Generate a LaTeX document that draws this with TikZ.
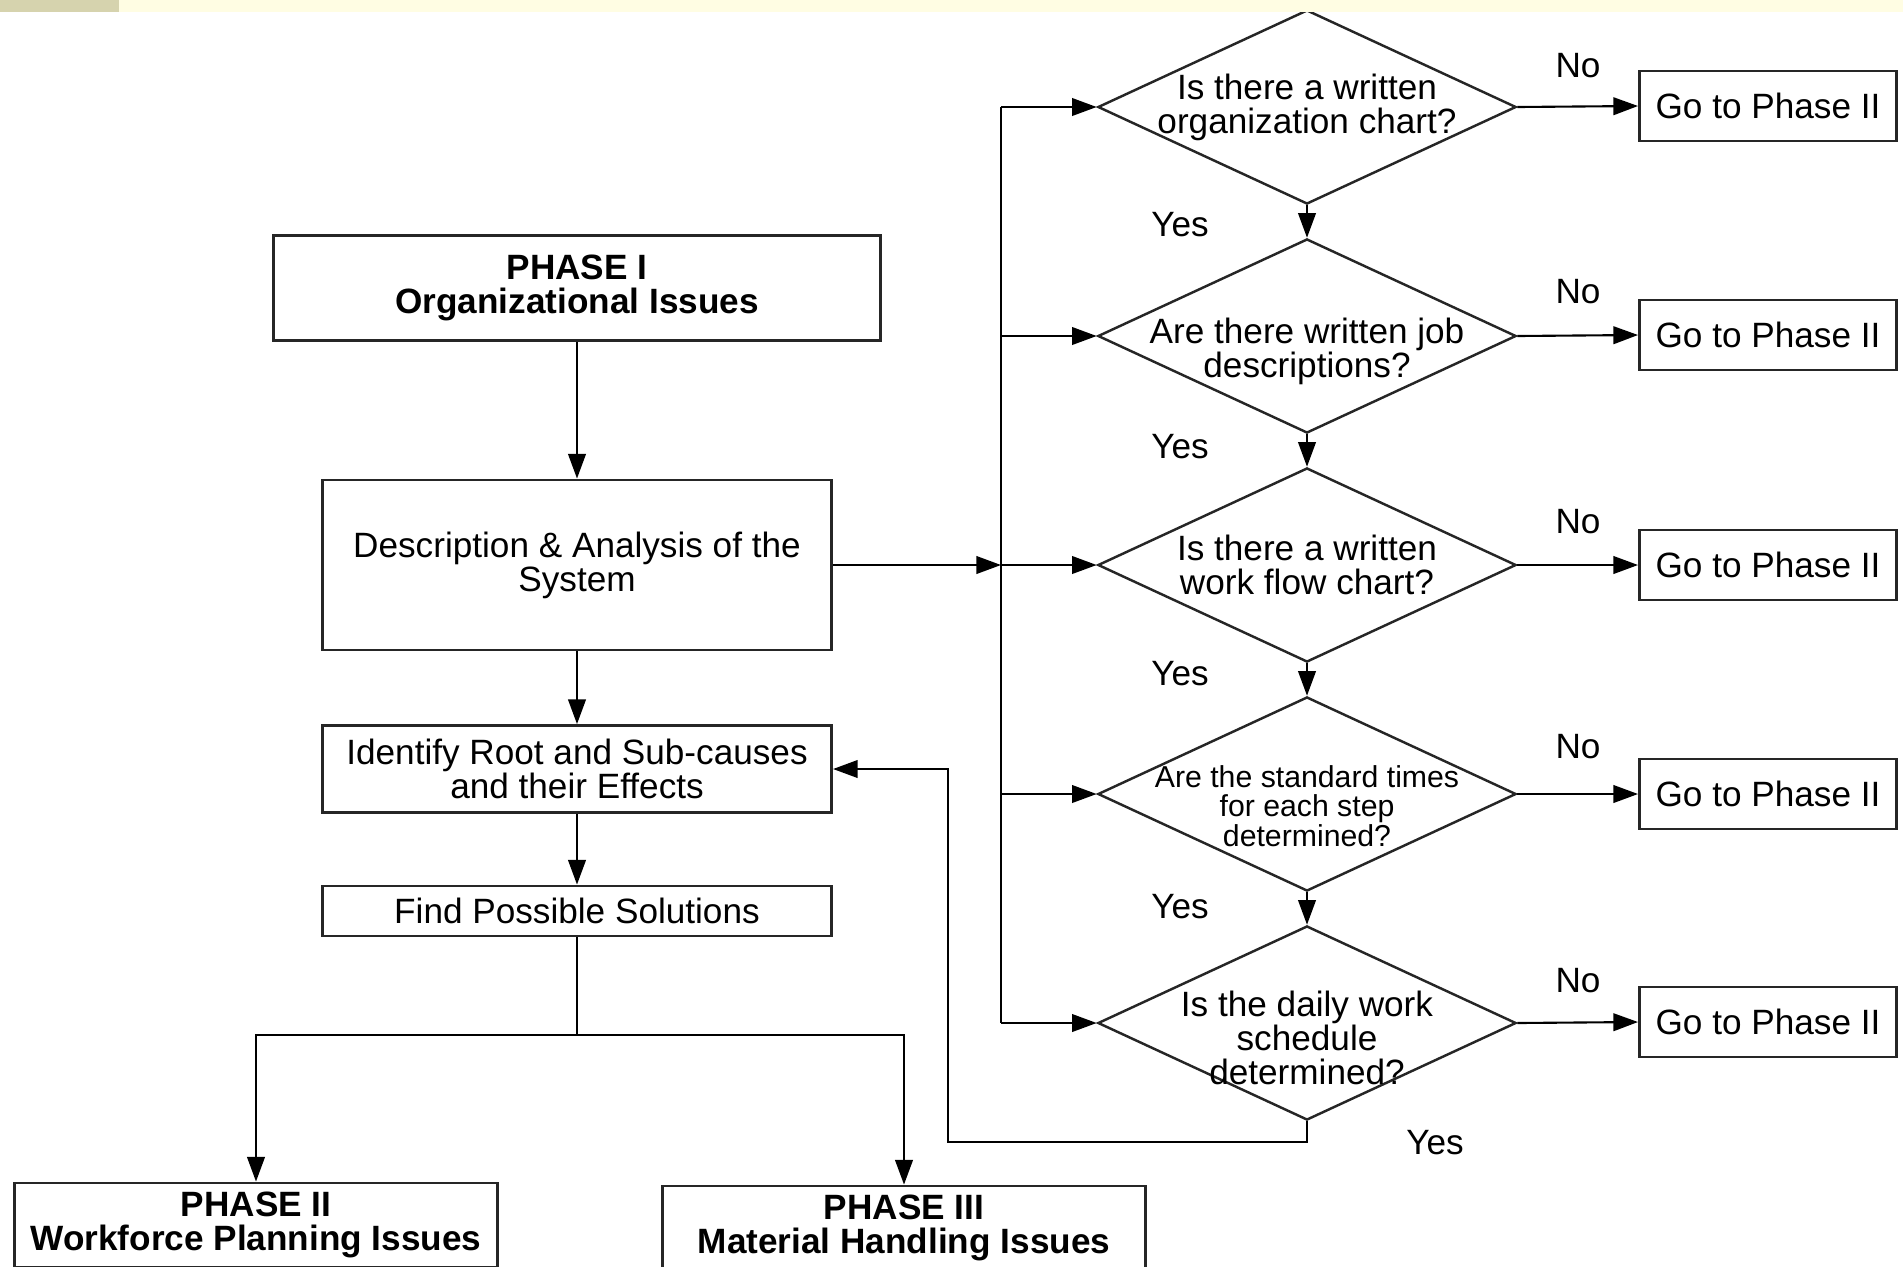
\documentclass[tikz,border=0pt]{standalone}
\usepackage{fontspec}
\setmainfont{Liberation Sans}
\usepackage{tikz}
\usetikzlibrary{shapes.geometric, arrows.meta, positioning}

\newcommand{\boxfont}{\fontsize{10}{9.7}\selectfont}
\newcommand{\smallboxfont}{\fontsize{8.6}{8.3}\selectfont}
\definecolor{bandyellow}{HTML}{FFFDE3}
\definecolor{bandolive}{HTML}{D6D3AE}

\tikzset{
	box/.style={draw=black!85, line width=0.8pt, rectangle, align=center, inner sep=0pt, font=\boxfont},
	decision/.style={draw=black!85, line width=0.7pt, diamond, minimum width=4.18cm, minimum height=1.94cm, inner sep=0pt},
	dtext/.style={align=center, font=\boxfont, inner sep=0pt},
	arr/.style={-{Triangle[length=7pt,width=5pt]}, line width=0.6pt},
	lbl/.style={font=\boxfont}
}

\begin{document}
\begin{tikzpicture}[x=0.01cm, y=-0.01cm]
			\useasboundingbox (0,0) rectangle (1903,1266);
			\def\bx{1001};
			\def\dx{1307};
			
			% left column
			\node[box, minimum width=6.06cm, minimum height=1.05cm] (phase1) at (577,288) {\textbf{PHASE I}\\\textbf{Organizational Issues}};
			\node[box, minimum width=5.09cm, minimum height=1.70cm] (desc) at (577,565) {Description \& Analysis of the\\System};
			\node[box, minimum width=5.09cm, minimum height=0.87cm] (ident) at (577,769) {Identify Root and Sub-causes\\and their Effects};
			\node[box, minimum width=5.09cm, minimum height=0.50cm] (find) at (577,911) {Find Possible Solutions};
			\node[box, minimum width=4.83cm, minimum height=0.84cm] (phase2) at (256,1225) {\textbf{PHASE II}\\\textbf{Workforce Planning Issues}};
			\node[box, minimum width=4.82cm, minimum height=0.84cm] (phase3) at (904,1228) {\textbf{PHASE III}\\\textbf{Material Handling Issues}};
			\coordinate (split) at (577,1035);
			
			\draw[arr] (phase1) -- (desc);
			\draw[arr] (desc) -- (ident);
			\draw[arr] (ident) -- (find);
			\draw[line width=0.6pt] (find.south) -- (split);
			\draw[arr] (split) -| (phase2.north);
			\draw[arr] (split) -| (phase3.north);
			
			% questions
			\node[decision, label={[dtext]center:{Is there a written\\organization chart?}}] (q1) at (\dx,107) {};
			\node[decision, label={[dtext, yshift=-0.15cm]center:{Are there written job\\descriptions?}}] (q2) at (\dx,336) {};
			\node[decision, label={[dtext]center:{Is there a written\\work flow chart?}}] (q3) at (\dx,565) {};
			\node[decision, label={[dtext, font=\smallboxfont, yshift=-0.12cm]center:{Are the standard times\\for each step\\determined?}}] (q4) at (\dx,794) {};
			\node[decision, label={[dtext, yshift=-0.15cm]center:{Is the daily work\\schedule\\determined?}}] (q5) at (\dx,1023) {};
			
			\node[box, minimum width=2.57cm, minimum height=0.70cm] (go1) at (1768,106) {Go to Phase II};
			\node[box, minimum width=2.57cm, minimum height=0.70cm] (go2) at (1768,335) {Go to Phase II};
			\node[box, minimum width=2.57cm, minimum height=0.70cm] (go3) at (1768,565) {Go to Phase II};
			\node[box, minimum width=2.57cm, minimum height=0.70cm] (go4) at (1768,794) {Go to Phase II};
			\node[box, minimum width=2.57cm, minimum height=0.70cm] (go5) at (1768,1022) {Go to Phase II};
			
			\coordinate (bus1) at (\bx,107);
			\coordinate (bus2) at (\bx,336);
			\coordinate (bus3) at (\bx,565);
			\coordinate (bus4) at (\bx,794);
			\coordinate (bus5) at (\bx,1023);
			
			\draw[line width=0.6pt] (bus1) -- (bus5);
			\draw[arr] (desc.east) -- (bus3);
			\draw[arr] (bus1) -- (q1.west);
			\draw[arr] (bus2) -- (q2.west);
			\draw[arr] (bus3) -- (q3.west);
			\draw[arr] (bus4) -- (q4.west);
			\draw[arr] (bus5) -- (q5.west);
			
			\draw[arr] (q1.east) -- (go1.west);
			\draw[arr] (q2.east) -- (go2.west);
			\draw[arr] (q3.east) -- (go3.west);
			\draw[arr] (q4.east) -- (go4.west);
			\draw[arr] (q5.east) -- (go5.west);
			
			\draw[arr] (q1.south) -- (q2.north);
			\draw[arr] (q2.south) -- (q3.north);
			\draw[arr] (q3.south) -- (q4.north);
			\draw[arr] (q4.south) -- (q5.north);
			
			\coordinate (back1) at (\dx,1142);
			\coordinate (back2) at (948,1142);
			\coordinate (back3) at (948,769);
			\draw[arr] (q5.south) -- (back1) -- (back2) -- (back3) -- (ident.east);
			
			\node[lbl] (no1) at (1578,66) {No};
			\node[lbl] (no2) at (1578,292) {No};
			\node[lbl] (no3) at (1578,522) {No};
			\node[lbl] (no4) at (1578,747) {No};
			\node[lbl] (no5) at (1578,981) {No};
			
			\node[lbl] (yes1) at (1180,225) {Yes};
			\node[lbl] (yes2) at (1180,447) {Yes};
			\node[lbl] (yes3) at (1180,674) {Yes};
			\node[lbl] (yes4) at (1180,907) {Yes};
			\node[lbl] (yes5) at (1435,1143) {Yes};
			
			% top band
			\fill[bandyellow] (0,0) rectangle (1903,12);
			\fill[bandolive] (0,0) rectangle (119,12);
		\end{tikzpicture}
\end{document}
